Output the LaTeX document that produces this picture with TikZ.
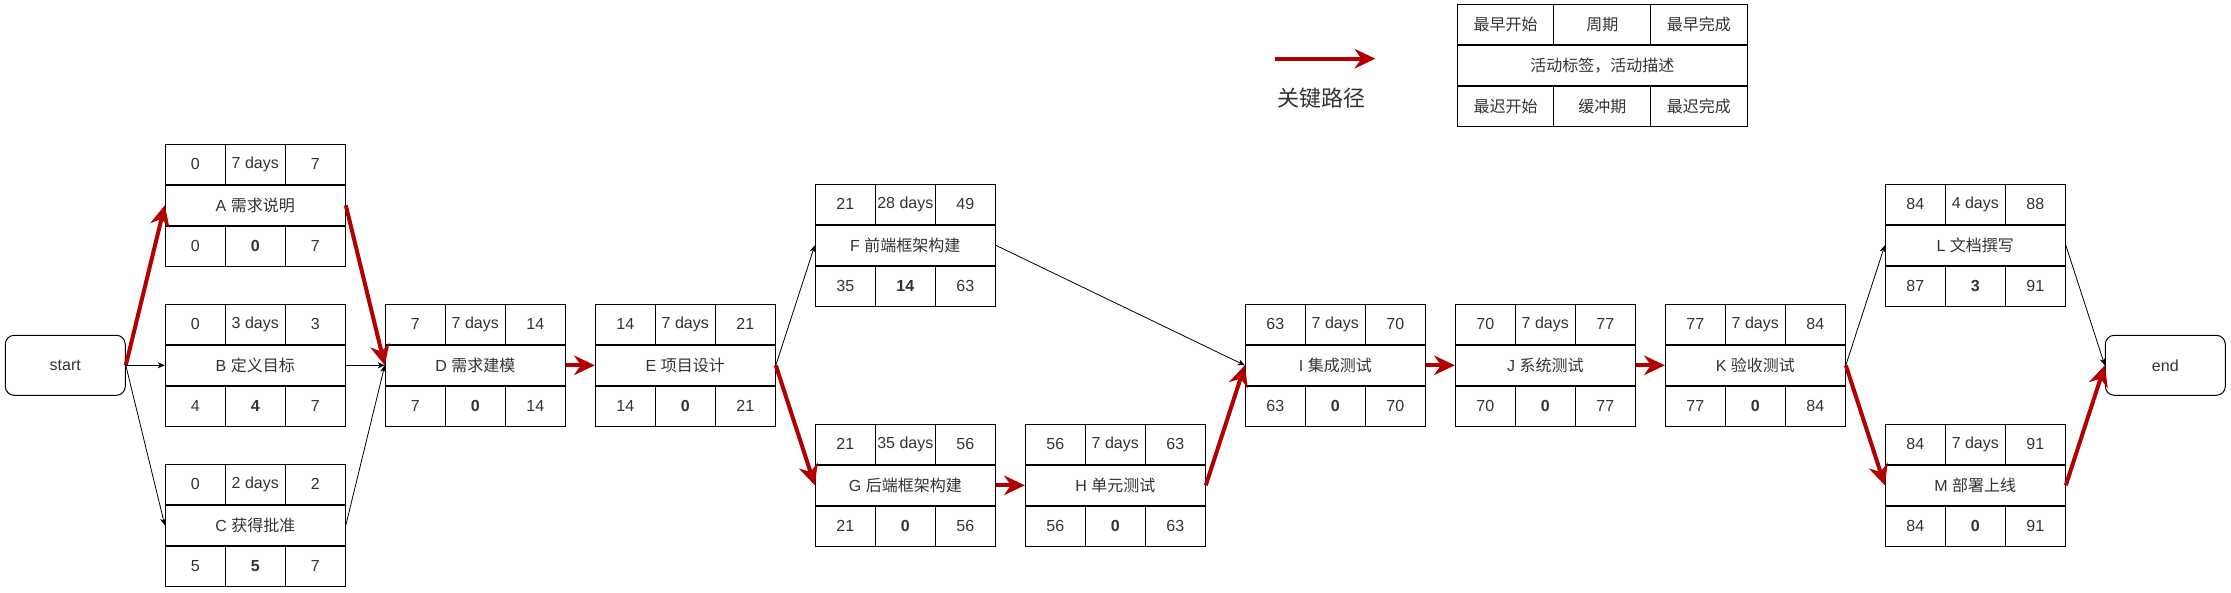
\documentclass[tikz,border=0pt]{standalone}
\usepackage{fontspec}
\setmainfont{Liberation Sans}
\newfontfamily\cjk{Noto Sans CJK SC}
\usetikzlibrary{arrows.meta}
\definecolor{crit}{HTML}{B20000}
\definecolor{txt}{HTML}{333333}
\newcommand\actbox[9]{%
  \node[midcell] (#1) at (#2) {#6};
  \node[cell, anchor=south west] (#1-es) at (#1.north west) {#3};
  \node[cell, anchor=south] (#1-du) at (#1.north) {#4};
  \node[cell, anchor=south east] (#1-ef) at (#1.north east) {#5};
  \node[cell, anchor=north west] (#1-ls) at (#1.south west) {#7};
  \node[cell, anchor=north] (#1-sl) at (#1.south) {\textbf{#8}};
  \node[cell, anchor=north east] (#1-lf) at (#1.south east) {#9};
}
\begin{document}
\begin{tikzpicture}[x=1pt,y=-1pt,
  cell/.style={draw, line width=1pt, minimum width=60pt, minimum height=40pt, inner sep=0pt,
    font=\fontsize{16}{19}\selectfont, text=txt},
  midcell/.style={cell, minimum width=180pt},
  lcell/.style={cell, minimum width=96.67pt},
  lmid/.style={cell, minimum width=290pt},
  term/.style={draw, line width=1pt, rounded corners=9pt, minimum width=120pt, minimum height=60pt,
    inner sep=0pt, font=\fontsize{16}{19}\selectfont, text=txt},
  critarrow/.style={draw=crit, line width=4pt, -{Stealth[length=21pt,width=20pt,inset=7pt,line width=0pt]}},
  thinarrow/.style={draw=black, line width=0.8pt, -{Stealth[length=7pt,width=6pt,inset=2pt]}},
]
\useasboundingbox (0,0) rectangle (2231,592);

% terminals
\node[term] (start) at (65.3,365.3) {start};
\node[term] (end) at (2165.3,365.3) {end};

% activities
\actbox{A}{255.3,205.3}{0}{7 days}{7}{A {\cjk 需求说明}}{0}{0}{7}
\actbox{B}{255.3,365.3}{0}{3 days}{3}{B {\cjk 定义目标}}{4}{4}{7}
\actbox{C}{255.3,525.3}{0}{2 days}{2}{C {\cjk 获得批准}}{5}{5}{7}
\actbox{D}{475.3,365.3}{7}{7 days}{14}{D {\cjk 需求建模}}{7}{0}{14}
\actbox{E}{685.3,365.3}{14}{7 days}{21}{E {\cjk 项目设计}}{14}{0}{21}
\actbox{F}{905.3,245.3}{21}{28 days}{49}{F {\cjk 前端框架构建}}{35}{14}{63}
\actbox{G}{905.3,485.3}{21}{35 days}{56}{G {\cjk 后端框架构建}}{21}{0}{56}
\actbox{H}{1115.3,485.3}{56}{7 days}{63}{H {\cjk 单元测试}}{56}{0}{63}
\actbox{I}{1335.3,365.3}{63}{7 days}{70}{I {\cjk 集成测试}}{63}{0}{70}
\actbox{J}{1545.3,365.3}{70}{7 days}{77}{J {\cjk 系统测试}}{70}{0}{77}
\actbox{K}{1755.3,365.3}{77}{7 days}{84}{K {\cjk 验收测试}}{77}{0}{84}
\actbox{L}{1975.3,245.3}{84}{4 days}{88}{L {\cjk 文档撰写}}{87}{3}{91}
\actbox{M}{1975.3,485.3}{84}{7 days}{91}{M {\cjk 部署上线}}{84}{0}{91}

% legend table
\node[lmid] (leg) at (1602.3,65.3) {\cjk 活动标签，活动描述};
\node[lcell, anchor=south west] (leg-es) at (leg.north west) {\cjk 最早开始};
\node[lcell, anchor=south] (leg-du) at (leg.north) {\cjk 周期};
\node[lcell, anchor=south east] (leg-ef) at (leg.north east) {\cjk 最早完成};
\node[lcell, anchor=north west] (leg-ls) at (leg.south west) {\cjk 最迟开始};
\node[lcell, anchor=north] (leg-sl) at (leg.south) {\cjk 缓冲期};
\node[lcell, anchor=north east] (leg-lf) at (leg.south east) {\cjk 最迟完成};

% legend arrow
\coordinate (la1) at (1275.3,58.7);
\coordinate (la2) at (1375.3,58.7);
\draw[critarrow] (la1) -- (la2);
\node[font=\fontsize{22}{26}\selectfont\cjk, text=txt] (lt) at (1321,98.3) {关键路径};

% connectors
\draw[critarrow] (start.east) -- (A.west);
\draw[thinarrow] (start.east) -- (B.west);
\draw[thinarrow] (start.east) -- (C.west);
\draw[critarrow] (A.east) -- (D.west);
\draw[thinarrow] (B.east) -- (D.west);
\draw[thinarrow] (C.east) -- (D.west);
\draw[critarrow] (D.east) -- (E.west);
\draw[thinarrow] (E.east) -- (F.west);
\draw[critarrow] (E.east) -- (G.west);
\draw[critarrow] (G.east) -- (H.west);
\draw[thinarrow] (F.east) -- (I.west);
\draw[critarrow] (H.east) -- (I.west);
\draw[critarrow] (I.east) -- (J.west);
\draw[critarrow] (J.east) -- (K.west);
\draw[thinarrow] (K.east) -- (L.west);
\draw[critarrow] (K.east) -- (M.west);
\draw[thinarrow] (L.east) -- (end.west);
\draw[critarrow] (M.east) -- (end.west);
\end{tikzpicture}
\end{document}
